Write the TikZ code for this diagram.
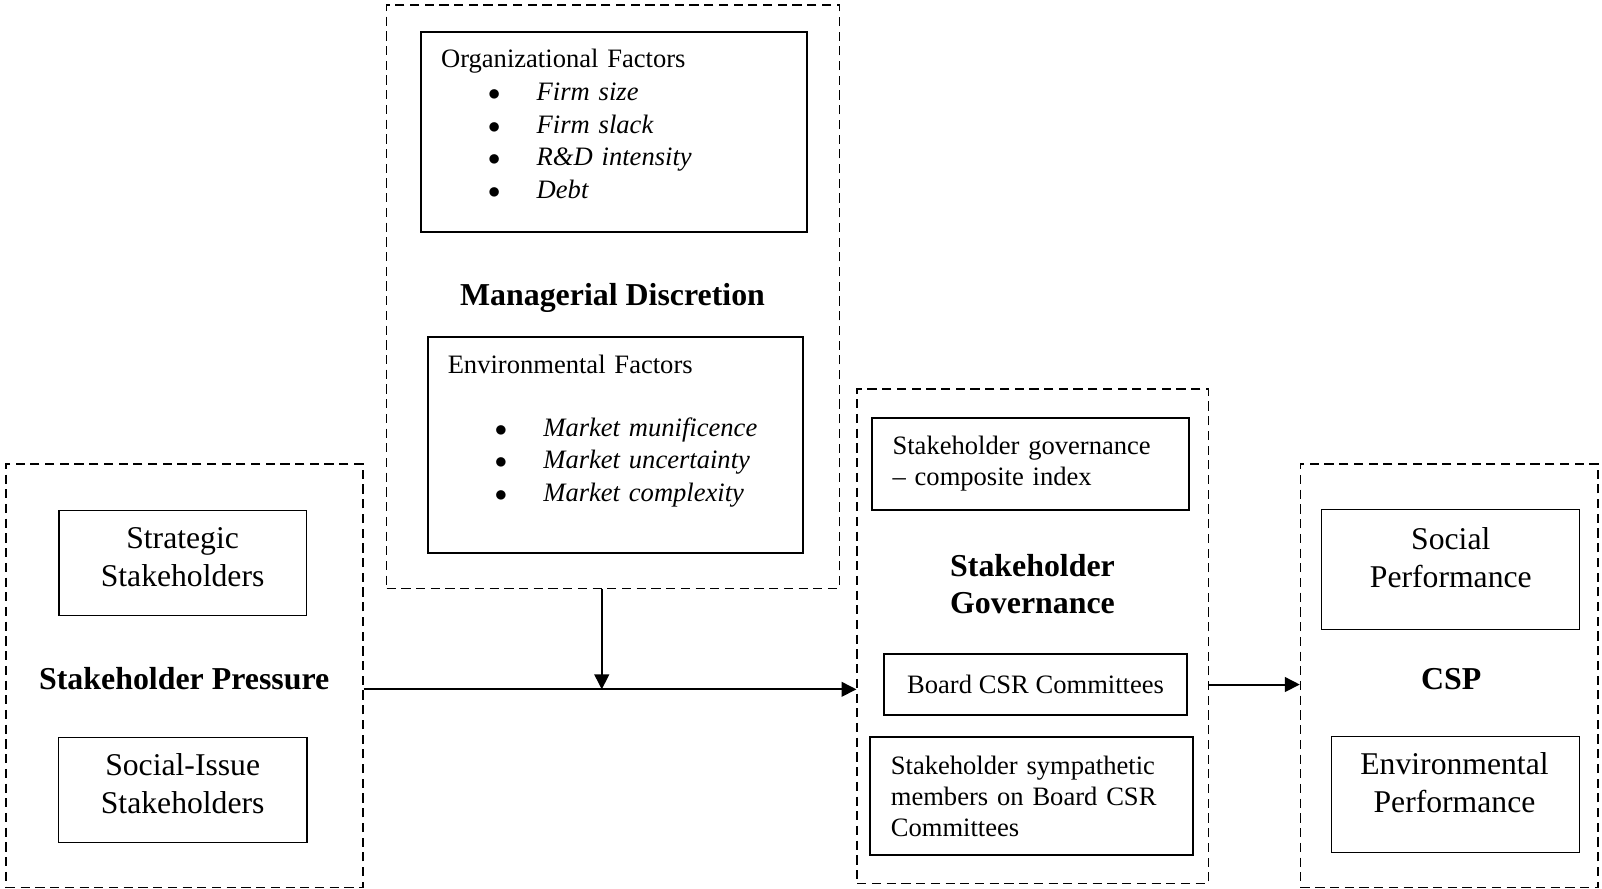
\documentclass[tikz,border=0pt]{standalone}
\usepackage{fontspec}
\setmainfont{Liberation Serif}
\usetikzlibrary{arrows.meta,positioning}

\newcommand{\bitem}[1]{\hspace*{23pt}\makebox[23.8pt][l]{$\bullet$}\textit{#1}}

\begin{document}
\begin{tikzpicture}[x=0.5pt,y=-0.5pt,>={Triangle[length=7.3pt,width=7.2pt]}]
        \tikzset{group/.style={draw, dash pattern=on 4.5pt off 2.7pt, line width=0.8pt, inner sep=0pt},
        block/.style={draw, line width=1pt, inner sep=0pt, align=center, font=\fontsize{13}{15.2}\selectfont},
        lblock/.style={block, align=left, inner xsep=10.2pt},
        thinblock/.style={draw, line width=0.6pt, inner sep=0pt},
        boxtext/.style={inner sep=0pt, align=center, text width=120pt, font=\fontsize{15.5}{18.6}\selectfont},
        title/.style={inner sep=0pt, align=center, font=\fontsize{15.6}{18}\selectfont\bfseries},
        listtext/.style={inner sep=0pt, align=left, text width=170pt, font=\fontsize{13}{16}\selectfont}
        }
        \useasboundingbox (0,0) rectangle (1568,870);

%% dashed groups
        \node [group, minimum width=221.6pt, minimum height=285.5pt] (md) at (600,290.4) {};
        \node [group, minimum width=174.55pt, minimum height=207.25pt] (sp) at (180.45,661.25) {};
        \node [group, minimum width=171.85pt, minimum height=241.8pt] (sg) at (1010.9,622.8) {};
        \node [group, minimum width=145.65pt, minimum height=207.25pt] (csp) at (1418.65,661.25) {};

%% managerial discretion
        \node [block, minimum width=189.25pt, minimum height=97.9pt] (orgf) at (601,129.5) {};
        \node [listtext, below right=17.8pt and 10.3pt of orgf.north west, anchor=base west] (orgtext)
              {Organizational Factors\\ \bitem{Firm size}\\ \bitem{Firm slack}\\ \bitem{R\&D intensity}\\ \bitem{Debt}};
        \node [title, anchor=base] (mdtitle) at (599.5,299) {Managerial Discretion};
        \node [block, minimum width=183.85pt, minimum height=105.7pt] (envf) at (602.5,435.9) {};
        \node [listtext, below right=18pt and 10.1pt of envf.north west, anchor=base west] (envtext)
              {Environmental Factors\\[14.9pt] \bitem{Market munificence}\\ \bitem{Market uncertainty}\\ \bitem{Market complexity}};

%% stakeholder pressure
        \node [thinblock, minimum width=121.25pt, minimum height=51.4pt] (strat) at (179,551.2) {};
        \node [boxtext, anchor=base] (strattext) at (178.7,537) {Strategic\\Stakeholders};
        \node [title, anchor=base] (sptitle) at (180.3,675) {Stakeholder Pressure};
        \node [thinblock, minimum width=121.7pt, minimum height=51.55pt] (issue) at (178.8,773.3) {};
        \node [boxtext, anchor=base] (issuetext) at (178.8,759.5) {Social-Issue\\Stakeholders};

%% stakeholder governance
        \node [lblock, text width=135pt, minimum height=45.2pt] (comp) at (1008.6,454) {Stakeholder governance\\– composite index};
        \node [title, text width=110pt, anchor=base] (sgtitle) at (1010.6,564.4) {Stakeholder\\Governance};
        \node [block, minimum width=147.95pt, minimum height=30pt] (board) at (1013.6,670) {Board CSR Committees};
        \node [lblock, text width=137.55pt, minimum height=57.55pt] (symp) at (1009.5,779.3) {Stakeholder sympathetic\\members on Board CSR\\Committees};

%% csp
        \node [thinblock, minimum width=126.05pt, minimum height=58.5pt] (socp) at (1419.7,557.5) {};
        \node [boxtext, anchor=base] (socptext) at (1420,537.7) {Social\\Performance};
        \node [title, anchor=base] (csptitle) at (1420.5,674.7) {CSP};
        \node [thinblock, minimum width=121.35pt, minimum height=56.8pt] (envp) at (1424.4,777.8) {};
        \node [boxtext, anchor=base] (envptext) at (1423.6,758.5) {Environmental\\Performance};

        \coordinate (join) at (589,674.7);  %% where discretion meets the main arrow

%% paths
        \path[->,line width=1pt] (join |- md.south) edge (join)
                    (sp.east |- join) edge (sg.west |- join)
                    (sg.east |- board) edge (csp.west |- board)
                    ;
\end{tikzpicture}
\end{document}
